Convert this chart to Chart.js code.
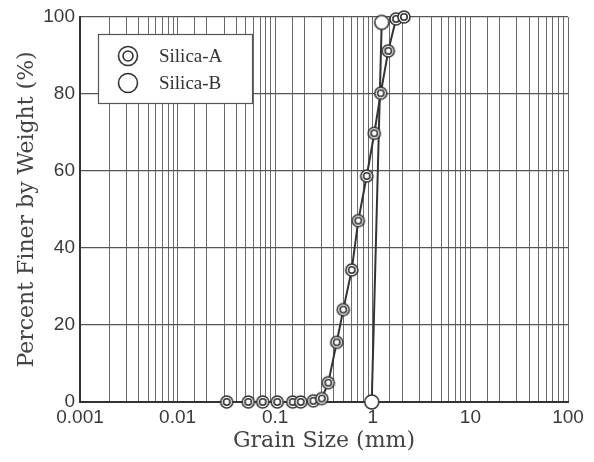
<!DOCTYPE html>
<html>
<head>
<meta charset="utf-8">
<script src="https://cdn.jsdelivr.net/npm/chart.js@4.4.1/dist/chart.umd.min.js"></script>
<style>
  html, body { margin: 0; padding: 0; background: #fff; }
  #wrap { width: 594px; height: 462px; }
</style>
</head>
<body>
<div id="wrap"><canvas id="gradation" width="594" height="462"></canvas></div>
<script>
// Grain size distribution (sieve curves)

var seriesNames = ["Silica-A", "Silica-B"];

// Silica-A
var grainA = [0.0318, 0.053, 0.0744, 0.105, 0.151, 0.1825, 0.246, 0.30, 0.35, 0.427, 0.4985, 0.608, 0.71, 0.866, 1.036, 1.205, 1.441, 1.729, 2.087];
var finerA = [0, 0, 0, 0, 0, 0, 0.3, 0.9, 5, 15.5, 24, 34.3, 47.1, 58.7, 69.8, 80.2, 91.2, 99.5, 100];

// Silica-B
var grainB = [0.975, 1.234];
var finerB = [0, 98.6];

var xTickLabels = ["0.001", "0.01", "0.1", "1", "10", "100"];
var yTicks = [0, 20, 40, 60, 80, 100];

var ink = "#333";

function drawRing(g, x, y, outer, inner) {
    g.fillStyle = "#fff";
    g.strokeStyle = ink;
    g.lineWidth = 1.6;
    g.beginPath(); g.arc(x, y, outer, 0, Math.PI * 2); g.fill(); g.stroke();
    if (inner) {
        g.beginPath(); g.arc(x, y, inner, 0, Math.PI * 2); g.stroke();
    }
}

// marker bitmaps: double ring for A, plain open circle for B
function ringMarker(outer, inner) {
    var size = 2 * Math.ceil(outer + 2);
    var c = document.createElement("canvas");
    c.width = size; c.height = size;
    drawRing(c.getContext("2d"), size / 2, size / 2, outer, inner);
    return c;
}
var markA = ringMarker(6, 3.2);
var markB = ringMarker(7, 0);

function toPoints(xs, ys) {
    return xs.map(function (x, i) { return { x: x, y: ys[i] }; });
}

// legend box drawn over the grid, top-left of the plot
var boxLegend = {
    id: "boxLegend",
    afterDatasetsDraw: function (chart) {
        var ctx = chart.ctx;
        ctx.save();
        ctx.fillStyle = "#fff";
        ctx.fillRect(98, 34, 154, 69);
        ctx.strokeStyle = "#555";
        ctx.lineWidth = 1.2;
        ctx.strokeRect(98.5, 34.5, 154, 69);
        ctx.font = "19px 'Liberation Serif'";
        ctx.textBaseline = "middle";
        for (var i = 0; i < seriesNames.length; i++) {
            var cy = 56 + i * 27;
            drawRing(ctx, 128, cy, 9.5, i === 0 ? 5 : 0);
            ctx.fillStyle = ink;
            ctx.fillText(seriesNames[i], 159, cy + 1);
        }
        ctx.restore();
    }
};

new Chart(document.getElementById("gradation"), {
    type: "line",
    data: {
        datasets: [{
            label: seriesNames[0],
            data: toPoints(grainA, finerA),
            borderColor: ink,
            borderWidth: 2,
            pointStyle: markA,
            clip: false,
            tension: 0
        }, {
            label: seriesNames[1],
            data: toPoints(grainB, finerB),
            borderColor: ink,
            borderWidth: 2,
            pointStyle: markB,
            clip: false,
            tension: 0
        }]
    },
    options: {
        responsive: false,
        animation: false,
        layout: { padding: { top: 17, right: 26, left: 0, bottom: 0 } },
        plugins: {
            legend: { display: false },
            tooltip: { enabled: false }
        },
        scales: {
            x: {
                type: "logarithmic",
                min: 0.001,
                max: 100,
                afterFit: function (s) { s.height = 60; },
                grid: { color: "#6a6a6a", lineWidth: 1, drawTicks: false },
                border: { display: true, color: ink, width: 2 },
                ticks: {
                    autoSkip: false,
                    maxRotation: 0,
                    padding: 4,
                    color: "#3a3a3a",
                    font: { family: "'Liberation Sans'", size: 19 },
                    callback: function (v) {
                        var l = Math.log10(v);
                        if (Math.abs(l - Math.round(l)) > 1e-6) return "";
                        return xTickLabels[Math.round(l) + 3];
                    }
                },
                title: {
                    display: true,
                    text: "Grain Size (mm)",
                    color: "#444",
                    font: { family: "'DejaVu Serif'", size: 22 },
                    padding: { top: 0, bottom: 8 }
                }
            },
            y: {
                min: 0,
                max: 100,
                afterFit: function (s) { s.width = 80; },
                afterBuildTicks: function (s) {
                    s.ticks = yTicks.map(function (v) { return { value: v }; });
                },
                grid: { color: "#555", lineWidth: 1.3, drawTicks: false },
                border: { display: true, color: ink, width: 2 },
                ticks: {
                    padding: 5,
                    color: "#3a3a3a",
                    font: { family: "'Liberation Sans'", size: 19 }
                },
                title: {
                    display: true,
                    text: "Percent Finer by Weight (%)",
                    color: "#444",
                    font: { family: "'DejaVu Serif'", size: 22 },
                    padding: { top: 14, bottom: 0 }
                }
            }
        }
    },
    plugins: [boxLegend]
});
</script>
</body>
</html>
